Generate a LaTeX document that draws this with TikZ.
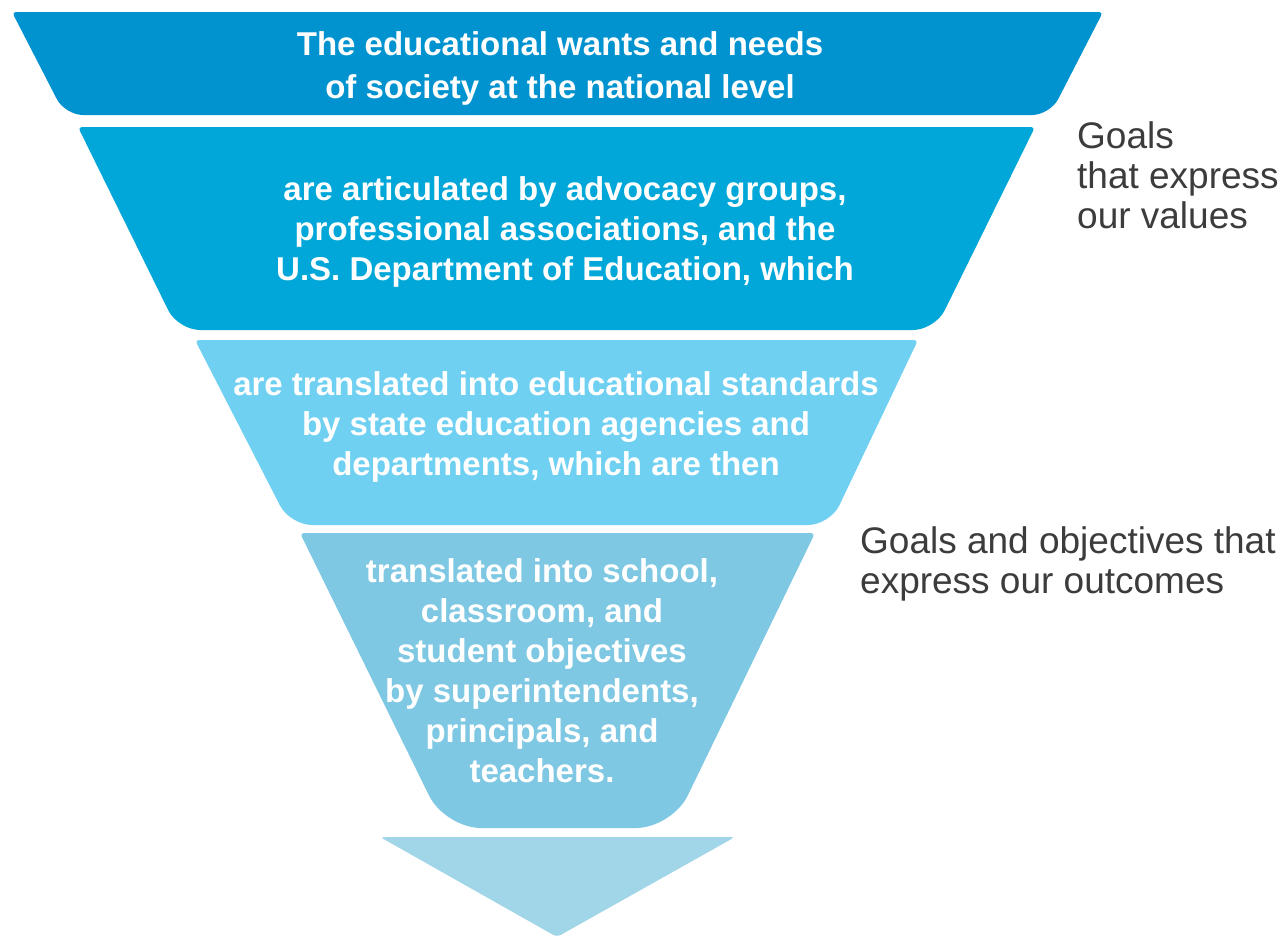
\documentclass[tikz,border=0pt]{standalone}
\usepackage{fontspec}
\setmainfont{Liberation Sans}
\usetikzlibrary{positioning}

\definecolor{tierone}{RGB}{0,147,207}
\definecolor{tiertwo}{RGB}{0,167,216}
\definecolor{tierthree}{RGB}{111,208,242}
\definecolor{tierfour}{RGB}{126,200,227}
\definecolor{tiptone}{RGB}{160,214,232}
\definecolor{notegray}{RGB}{60,60,60}

\begin{document}
\begin{tikzpicture}[
    x=1pt, y=-1pt,
    tiertext/.style={align=center, text=white, inner sep=0pt, font=\fontsize{33}{40}\selectfont\bfseries},
    note/.style={align=left, text=notegray, inner sep=0pt, anchor=west, font=\fontsize{37}{40}\selectfont}
]
    \useasboundingbox[fill=white] (0,0) rectangle (1283,938);

    % --- Funnel tiers: top corners nearly sharp, bottom corners rounded ---
    \fill[tierone] (12,12) [rounded corners=4pt] -- (1103,12)
        [rounded corners=18pt] -- (1050,115) -- (65,115) [rounded corners=4pt] -- cycle;
    \fill[tiertwo] (78,127) [rounded corners=4pt] -- (1035,127)
        [rounded corners=22pt] -- (935,330) -- (178,330) [rounded corners=4pt] -- cycle;
    \fill[tierthree] (195,340) [rounded corners=4pt] -- (918,340)
        [rounded corners=22pt] -- (830,525) -- (290,525) [rounded corners=4pt] -- cycle;
    \fill[tierfour] (300,533) [rounded corners=4pt] -- (815,533)
        [rounded corners=36pt] -- (672,828) -- (445,828) [rounded corners=4pt] -- cycle;

    % --- Arrow tip ---
    \fill[tiptone] (380,837) [rounded corners=4pt] -- (735,837) -- (557,937) -- cycle;

    % --- Tier texts ---
    \node[tiertext, font=\fontsize{33}{43}\selectfont\bfseries] (national) at (560,68)
        {The educational wants and needs\\of society at the national level};
    \node[tiertext] (advocacy) at (565,232)
        {are articulated by advocacy groups,\\professional associations, and the\\U.S. Department of Education, which};
    \node[tiertext] (state) at (556,427)
        {are translated into educational standards\\by state education agencies and\\departments, which are then};
    \node[tiertext] (school) at (542,671)
        {translated into school,\\classroom, and\\student objectives\\by superintendents,\\principals, and\\teachers.};

    % --- Side notes ---
    \node[note] (values) at (1077,175) {Goals\\that express\\our values};
    \node[note] (outcomes) at (860,564) {Goals and objectives that\\express our outcomes};

\end{tikzpicture}
\end{document}
